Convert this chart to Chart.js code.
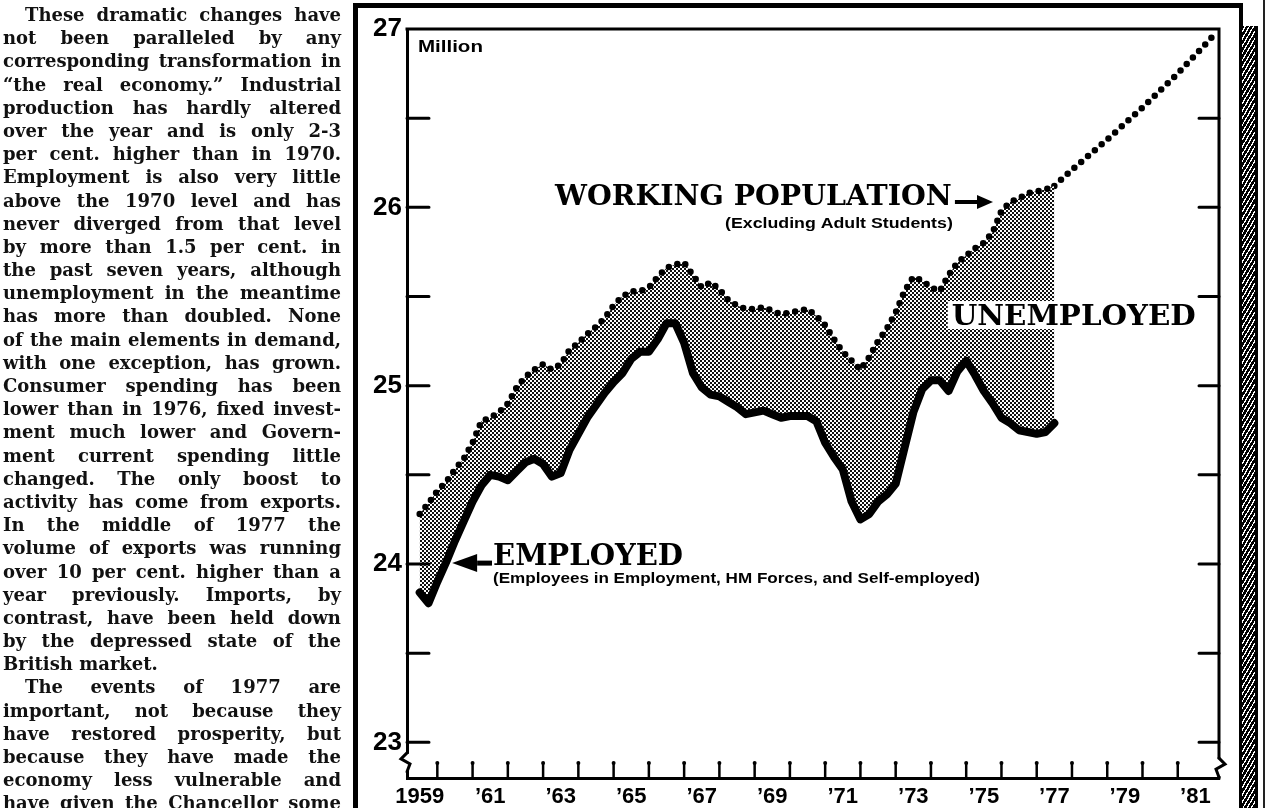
<!DOCTYPE html>
<html lang="en">
<head>
<meta charset="utf-8">
<title>Working population and employment, 1959-1981</title>
<script src="https://cdn.jsdelivr.net/npm/chart.js@4.4.1/dist/chart.umd.min.js"></script>
<style>
    html, body { margin: 0; padding: 0; background: #fff; }
    body { position: relative; width: 1267px; height: 808px; overflow: hidden; }
    canvas#employment-chart { position: absolute; left: 0; top: 0; }
    div#column {
        position: absolute; left: 3px; top: 3px; width: 338px;
        font-family: 'DejaVu Serif', serif; font-weight: bold; font-size: 18px; color: #111;
    }
    div.column-line {
        display: flex; justify-content: space-between; box-sizing: border-box;
        width: 338px; height: 23.2px; line-height: 23.2px; white-space: nowrap;
        transform-origin: left center;
    }
    div.column-line.indent { padding-left: 22px; }
    div.column-line.end { justify-content: flex-start; }
    div#frame {
        position: absolute; left: 353px; top: 3px; width: 881px; height: 840px;
        border-left: 5px solid #000; border-top: 5px solid #000; border-right: 4px solid #000;
    }
    div#hatch {
        position: absolute; left: 1239px; top: 26px; width: 13px; height: 800px;
        border-left: 3px solid #000; border-right: 3px solid #000;
        background: repeating-linear-gradient(120deg, #000 0 2.4px, #fff 2.4px 3.6px);
    }
    div#edge { position: absolute; left: 1263px; top: 0; width: 2px; height: 808px; background: #222; }
</style>
</head>
<body>
<div id="frame"></div>
<div id="hatch"></div>
<div id="edge"></div>
<canvas id="employment-chart" width="1267" height="808"></canvas>
<div id="column"></div>
<script>
// Quarterly readings, first quarter at mid-1959, last at mid-1977 (millions)
const firstQuarter = 1959.5;

const employed = [
    23.84, 23.78,
    23.90, 24.01, 24.13, 24.24,
    24.35, 24.44, 24.50, 24.49,
    24.47, 24.52, 24.57, 24.59,
    24.56, 24.49, 24.51, 24.64,
    24.73, 24.82, 24.89, 24.96,
    25.02, 25.07, 25.15, 25.19,
    25.19, 25.26, 25.35, 25.35,
    25.24, 25.07, 24.99, 24.95,
    24.94, 24.91, 24.88, 24.84,
    24.85, 24.86, 24.84, 24.82,
    24.83, 24.83, 24.83, 24.80,
    24.68, 24.60, 24.53, 24.35,
    24.25, 24.28, 24.35, 24.39,
    24.45, 24.65, 24.85, 24.98,
    25.03, 25.03, 24.97, 25.08,
    25.14, 25.06, 24.97, 24.90,
    24.82, 24.79, 24.75, 24.74,
    24.73, 24.74, 24.79
];

const workingPopulation = [
    24.28, 24.34,
    24.41, 24.46, 24.53, 24.59,
    24.68, 24.80, 24.82, 24.85,
    24.90, 24.99, 25.05, 25.09,
    25.12, 25.09, 25.12, 25.20,
    25.24, 25.29, 25.33, 25.38,
    25.45, 25.50, 25.53, 25.53,
    25.55, 25.61, 25.66, 25.68,
    25.69, 25.62, 25.55, 25.58,
    25.54, 25.48, 25.45, 25.43,
    25.43, 25.44, 25.42, 25.40,
    25.41, 25.42, 25.43, 25.39,
    25.34, 25.26, 25.19, 25.14,
    25.09, 25.16, 25.25, 25.32,
    25.41, 25.53, 25.61, 25.59,
    25.55, 25.53, 25.62, 25.69,
    25.73, 25.77, 25.80, 25.86,
    25.98, 26.03, 26.05, 26.08,
    26.09, 26.10, 26.12
];

// Projected working population to 1982
const projectionYears = [1977.5, 1978, 1979, 1980, 1981, 1982];
const projection = [26.12, 26.21, 26.38, 26.56, 26.75, 26.96];

// Axis labels
const labelYears = [1959, 1961, 1963, 1965, 1967, 1969, 1971, 1973, 1975, 1977, 1979, 1981];
const yearLabels = ['1959', '\u201961', '\u201963', '\u201965', '\u201967', '\u201969', '\u201971',
    '\u201973', '\u201975', '\u201977', '\u201979', '\u201981'];
const valueLabels = [23, 24, 25, 26, 27];
const halfMillionMarks = [23, 23.5, 24, 24.5, 25, 25.5, 26, 26.5];

const X_MIN = 1959.14;
const X_MAX = 1982.17;
const Y_MIN = 22.8;
const Y_MAX = 27;

const columnText = [
    ['These dramatic changes have', 'indent'],
    ['not been paralleled by any'],
    ['corresponding transformation in'],
    ['\u201Cthe real economy.\u201D Industrial'],
    ['production has hardly altered'],
    ['over the year and is only 2-3'],
    ['per cent. higher than in 1970.'],
    ['Employment is also very little'],
    ['above the 1970 level and has'],
    ['never diverged from that level'],
    ['by more than 1.5 per cent. in'],
    ['the past seven years, although'],
    ['unemployment in the meantime'],
    ['has more than doubled. None'],
    ['of the main elements in demand,'],
    ['with one exception, has grown.'],
    ['Consumer spending has been'],
    ['lower than in 1976, fixed invest-'],
    ['ment much lower and Govern-'],
    ['ment current spending little'],
    ['changed. The only boost to'],
    ['activity has come from exports.'],
    ['In the middle of 1977 the'],
    ['volume of exports was running'],
    ['over 10 per cent. higher than a'],
    ['year previously. Imports, by'],
    ['contrast, have been held down'],
    ['by the depressed state of the'],
    ['British market.', 'end'],
    ['The events of 1977 are', 'indent'],
    ['important, not because they'],
    ['have restored prosperity, but'],
    ['because they have made the'],
    ['economy less vulnerable and'],
    ['have given the Chancellor some']
];

const quarterOf = (index) => firstQuarter + index / 4;

const fitText = (ctx, text, left, baseline, width, font) => {
    ctx.save();
    ctx.font = font;
    ctx.textAlign = 'left';
    ctx.textBaseline = 'alphabetic';
    const natural = ctx.measureText(text).width;
    ctx.translate(left, baseline);
    ctx.scale(width / natural, 1);
    ctx.fillText(text, 0, 0);
    ctx.restore();
};

const drawArrow = (ctx, fromX, toX, y, shaftWidth, headLength, headHalf) => {
    const dir = Math.sign(toX - fromX);
    const baseX = toX - dir * headLength;
    ctx.lineWidth = shaftWidth;
    ctx.beginPath();
    ctx.moveTo(fromX, y);
    ctx.lineTo(baseX, y);
    ctx.stroke();
    ctx.beginPath();
    ctx.moveTo(toX, y);
    ctx.lineTo(baseX, y - headHalf);
    ctx.lineTo(baseX, y + headHalf);
    ctx.closePath();
    ctx.fill();
};

const drawBreak = (ctx, x, y, dir) => {
    ctx.save();
    ctx.fillStyle = '#fff';
    ctx.fillRect(x - 3, y - 1, 6, 17);
    ctx.strokeStyle = '#000';
    ctx.lineWidth = 3;
    ctx.beginPath();
    ctx.moveTo(x, y - 2);
    ctx.lineTo(x + 6 * dir, y + 4);
    ctx.lineTo(x - 3 * dir, y + 9);
    ctx.lineTo(x, y + 17);
    ctx.stroke();
    ctx.restore();
};

// Half-tone screen for the unemployed band
const makeScreen = (ctx) => {
    const tile = document.createElement('canvas');
    tile.width = 4;
    tile.height = 4;
    const t = tile.getContext('2d');
    t.fillStyle = '#fff';
    t.fillRect(0, 0, 4, 4);
    t.fillStyle = '#111';
    t.fillRect(0, 0, 2, 2);
    t.fillRect(2, 2, 2, 2);
    return ctx.createPattern(tile, 'repeat');
};

// Plot box, inner tick marks and scale breaks
const axisDecorations = {
    id: 'axisDecorations',
    afterDraw(chart) {
        const { ctx, chartArea: area, scales } = chart;
        const xScale = scales.x;
        const yScale = scales.y;
        ctx.save();
        ctx.strokeStyle = '#000';
        ctx.fillStyle = '#000';

        ctx.lineWidth = 3;
        ctx.beginPath();
        ctx.moveTo(area.left - 1.5, area.top);
        ctx.lineTo(area.right, area.top);
        ctx.lineTo(area.right, area.bottom + 1.5);
        ctx.stroke();

        // One mark per year boundary along the time axis
        ctx.lineWidth = 2.5;
        for (let year = 1960; year <= 1981; year++) {
            const px = xScale.getPixelForValue(year);
            ctx.beginPath();
            ctx.moveTo(px, area.bottom);
            ctx.lineTo(px, area.bottom - 15);
            ctx.stroke();
            ctx.beginPath();
            ctx.arc(px, area.bottom - 15, 2, 0, Math.PI * 2);
            ctx.fill();
        }

        ctx.lineWidth = 3;
        ctx.lineCap = 'round';
        halfMillionMarks.forEach(value => {
            const py = yScale.getPixelForValue(value);
            ctx.beginPath();
            ctx.moveTo(area.left, py);
            ctx.lineTo(area.left + 22, py);
            ctx.moveTo(area.right, py);
            ctx.lineTo(area.right - 20, py);
            ctx.stroke();
        });

        drawBreak(ctx, area.left, yScale.getPixelForValue(22.93), -1);
        drawBreak(ctx, area.right, yScale.getPixelForValue(22.9), 1);
        ctx.restore();
    }
};

// Labels and arrows, anchored in data coordinates
const annotations = {
    id: 'annotations',
    afterDatasetsDraw(chart) {
        const { ctx, scales } = chart;
        const px = (t) => scales.x.getPixelForValue(t);
        const py = (v) => scales.y.getPixelForValue(v);
        const serif = "bold 28px 'DejaVu Serif', serif";
        const narrow = "bold 14px 'Liberation Sans Narrow', 'Liberation Sans', Arial, sans-serif";

        ctx.save();
        ctx.fillStyle = '#000';
        ctx.strokeStyle = '#000';

        fitText(ctx, 'Million', px(1959.45), py(26.871), 65,
            "bold 17px 'Liberation Sans Narrow', 'Liberation Sans', Arial, sans-serif");

        fitText(ctx, 'WORKING POPULATION', px(1963.34), py(26.013), px(1974.59) - px(1963.34), serif);
        fitText(ctx, '(Excluding Adult Students)', px(1968.16), py(25.884), px(1974.62) - px(1968.16), narrow);
        drawArrow(ctx, px(1974.68), px(1975.76), py(26.03), 4, 16, 7);

        const left = px(1974.59);
        const right = px(1981.51);
        const base = py(25.34);
        ctx.fillStyle = '#fff';
        ctx.fillRect(left - 4, base - 24, right - left + 8, 28);
        ctx.fillStyle = '#000';
        fitText(ctx, 'UNEMPLOYED', left, base, right - left, serif);

        fitText(ctx, 'EMPLOYED', px(1961.58), py(23.994), px(1966.97) - px(1961.58),
            "bold 30px 'DejaVu Serif', serif");
        drawArrow(ctx, px(1961.55), px(1960.42), py(24.005), 5, 25, 9);
        fitText(ctx, '(Employees in Employment, HM Forces, and Self-employed)', px(1961.58), py(23.893),
            px(1975.39) - px(1961.58), narrow);
        ctx.restore();
    }
};

const renderColumn = () => {
    const column = document.querySelector('div#column');
    columnText.forEach(([text, kind]) => {
        const line = document.createElement('div');
        line.classList.add('column-line');
        if (kind) {
            line.classList.add(kind);
        }
        if (kind === 'end') {
            line.textContent = text;
        } else {
            text.split(' ').forEach(word => {
                const span = document.createElement('span');
                span.textContent = word;
                line.appendChild(span);
            });
        }
        column.appendChild(line);
    });

    // Squeeze any line that is wider than the column
    column.querySelectorAll('div.column-line').forEach(line => {
        const words = [...line.children];
        if (!words.length) return;
        const gap = 5;
        const indent = line.classList.contains('indent') ? 22 : 0;
        const used = words.reduce((sum, w) => sum + w.getBoundingClientRect().width, 0) + gap * (words.length - 1);
        const room = 338 - indent;
        if (used > room) {
            const full = used + indent;
            line.style.width = full + 'px';
            line.style.transform = `scaleX(${338 / full})`;
        }
    });
};

const renderChart = () => {
    const ctx = document.querySelector('canvas#employment-chart').getContext('2d');

    return new Chart(ctx, {
        type: 'line',
        data: {
            datasets: [
                {
                    label: 'Employed',
                    data: employed.map((value, i) => ({ x: quarterOf(i), y: value })),
                    borderColor: '#000',
                    borderWidth: 8,
                    borderJoinStyle: 'round',
                    borderCapStyle: 'round',
                    pointRadius: 0,
                    tension: 0,
                    fill: false
                },
                {
                    label: 'Working population',
                    data: workingPopulation.map((value, i) => ({ x: quarterOf(i), y: value })),
                    borderColor: '#000',
                    borderWidth: 6.5,
                    borderDash: [0, 9],
                    borderCapStyle: 'round',
                    backgroundColor: makeScreen(ctx),
                    pointRadius: 0,
                    tension: 0,
                    fill: '-1'
                },
                {
                    label: 'Working population (projected)',
                    data: projection.map((value, i) => ({ x: projectionYears[i], y: value })),
                    borderColor: '#000',
                    borderWidth: 6.5,
                    borderDash: [0, 9],
                    borderCapStyle: 'round',
                    pointRadius: 0,
                    tension: 0,
                    fill: false
                }
            ]
        },
        options: {
            responsive: false,
            animation: false,
            layout: {
                padding: { top: 29, right: 48, bottom: 0, left: 0 }
            },
            plugins: {
                legend: { display: false },
                tooltip: { enabled: false }
            },
            scales: {
                x: {
                    type: 'linear',
                    min: X_MIN,
                    max: X_MAX,
                    afterBuildTicks: scale => {
                        scale.ticks = labelYears.map(year => ({ value: year + 0.5 }));
                    },
                    afterFit: scale => {
                        scale.height = 30;
                    },
                    grid: { display: false, drawTicks: false },
                    border: { display: true, color: '#000', width: 3 },
                    ticks: {
                        autoSkip: false,
                        maxRotation: 0,
                        padding: 6,
                        color: '#000',
                        font: { family: "'Liberation Sans', Arial, sans-serif", size: 22, weight: 'bold' },
                        callback: (value, index) => yearLabels[index]
                    }
                },
                y: {
                    min: Y_MIN,
                    max: Y_MAX,
                    afterBuildTicks: scale => {
                        scale.ticks = valueLabels.map(value => ({ value }));
                    },
                    afterFit: scale => {
                        scale.width = 407;
                    },
                    grid: { display: false, drawTicks: false },
                    border: { display: true, color: '#000', width: 3 },
                    ticks: {
                        padding: 5,
                        color: '#000',
                        font: { family: "'Liberation Sans', Arial, sans-serif", size: 26, weight: 'bold' },
                        callback: value => String(value)
                    }
                }
            }
        },
        plugins: [axisDecorations, annotations]
    });
};

renderColumn();
renderChart();
</script>
</body>
</html>
